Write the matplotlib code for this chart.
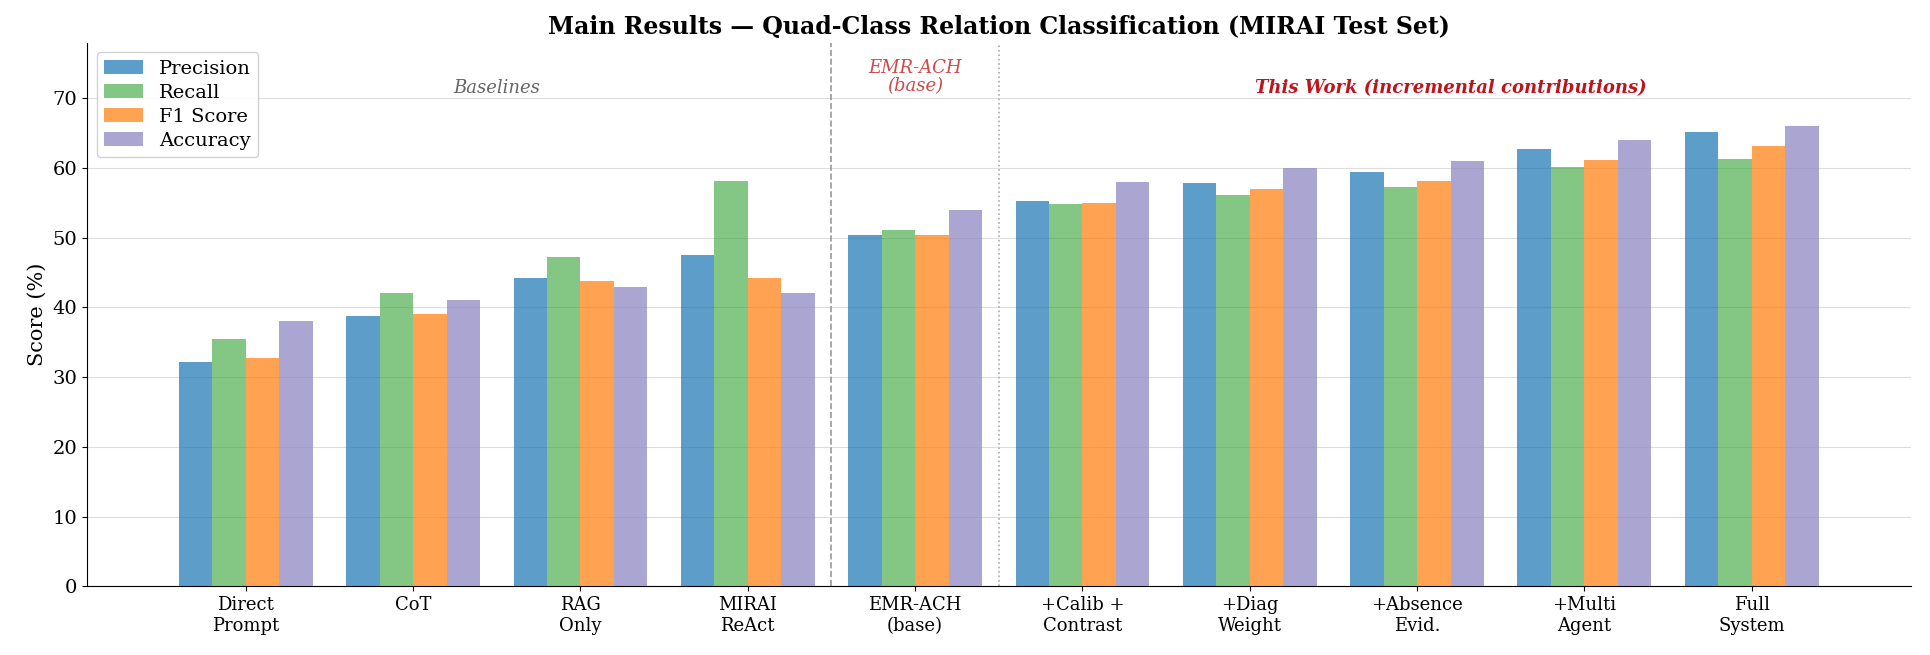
import matplotlib
matplotlib.use("Agg")
import matplotlib.pyplot as plt
import numpy as np

plt.rcParams['font.family'] = 'DejaVu Serif'

categories = ["Direct\nPrompt", "CoT", "RAG\nOnly", "MIRAI\nReAct", "EMR-ACH\n(base)",
              "+Calib +\nContrast", "+Diag\nWeight", "+Absence\nEvid.", "+Multi\nAgent", "Full\nSystem"]
precision = [32.1, 38.7, 44.2, 47.5, 50.4, 55.3, 57.8, 59.4, 62.7, 65.1]
recall    = [35.4, 42.0, 47.3, 58.2, 51.1, 54.8, 56.2, 57.3, 60.1, 61.3]
f1        = [32.8, 39.0, 43.8, 44.2, 50.4, 55.0, 57.0, 58.2, 61.2, 63.1]
accuracy  = [38.0, 41.0, 43.0, 42.0, 54.0, 58.0, 60.0, 61.0, 64.0, 66.0]

series = [("Precision", precision, "#1f77b4", 0.72), ("Recall", recall, "#2ca02c", 0.58),
          ("F1 Score", f1, "#ff7f0e", 0.72), ("Accuracy", accuracy, "#8f89c2", 0.75)]

fig, ax = plt.subplots(figsize=(19.3, 6.55), dpi=100)
x = np.arange(len(categories))
w = 0.2
for i, (name, vals, c, a) in enumerate(series):
    ax.bar(x + (i - 1.5) * w, vals, w, label=name, color=c, alpha=a, zorder=3)

ax.set_xticks(x)
ax.set_xticklabels(categories, fontsize=13)
ax.set_ylim(0, 78)
ax.set_xlim(-0.95, 9.95)
ax.set_ylabel("Score (%)", fontsize=15)
ax.tick_params(axis='y', labelsize=14)
ax.grid(axis='y', color='#dddddd', zorder=0)
ax.spines['top'].set_visible(False)
ax.spines['right'].set_visible(False)
ax.axvline(3.5, color='#999999', ls='--', lw=1.2)
ax.axvline(4.5, color='#aaaaaa', ls=':', lw=1.2)
ax.text(1.5, 71.5, "Baselines", ha='center', va='center', style='italic', color='#666666', fontsize=13)
ax.text(4.0, 73, "EMR-ACH\n(base)", ha='center', va='center', style='italic', color='#d04a4a', fontsize=13, linespacing=1.0)
ax.text(7.2, 71.5, "This Work (incremental contributions)", ha='center', va='center', style='italic',
        weight='bold', color='#c0141c', fontsize=13)
ax.set_title("Main Results — Quad-Class Relation Classification (MIRAI Test Set)", fontsize=17, weight='bold')
ax.legend(loc='upper left', fontsize=14, framealpha=0.9, handlelength=2, borderpad=0.4, labelspacing=0.3)
fig.subplots_adjust(left=0.045, right=0.99, top=0.935, bottom=0.105)
fig.savefig("out.png")
